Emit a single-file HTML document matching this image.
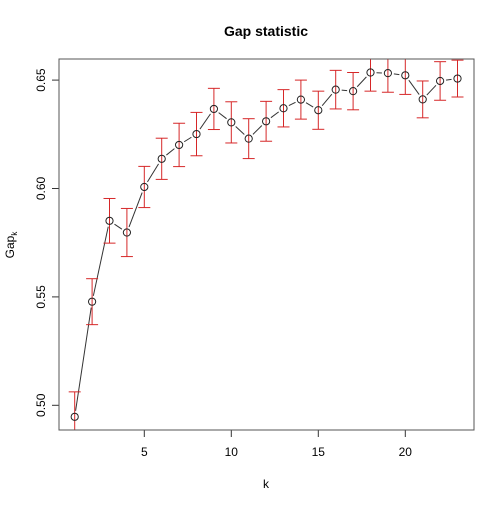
<!DOCTYPE html>
<html><head><meta charset="utf-8"><style>
body{margin:0;background:#fff}
svg text{font-family:"Liberation Sans",sans-serif}
</style></head><body>
<svg id="c" width="504" height="504" xmlns="http://www.w3.org/2000/svg">
<rect width="504" height="504" fill="#fff"/>
<text x="266" y="36" text-anchor="middle" font-size="14" font-weight="bold">Gap statistic</text>
<text x="266" y="488" text-anchor="middle" font-size="12">k</text>
<text transform="translate(14,245) rotate(-90)" text-anchor="middle" font-size="12">Gap<tspan font-size="8" dy="3">k</tspan></text>
<defs><clipPath id="cp"><rect x="59" y="59" width="415" height="371"/></clipPath></defs>
<g id="marks" clip-path="url(#cp)"></g>
<g id="axes"></g>
<rect x="59" y="59" width="415" height="371" fill="none" stroke="#555" stroke-width="1"/>
</svg>
<script>
const ks=[1,2,3,4,5,6,7,8,9,10,11,12,13,14,15,16,17,18,19,20,21,22,23];
const gap=[0.4947,0.5478,0.5851,0.5797,0.6007,0.6137,0.6201,0.6251,0.6367,0.6305,0.6230,0.6310,0.6370,0.6410,0.6361,0.6456,0.6449,0.6535,0.6532,0.6522,0.6411,0.6496,0.6507];
const se=[0.0115,0.0106,0.0103,0.0111,0.0095,0.0095,0.0100,0.0100,0.0095,0.0095,0.0092,0.0092,0.0086,0.0090,0.0088,0.0089,0.0086,0.0086,0.0088,0.0088,0.0085,0.0089,0.0085];
const xTicks=[5,10,15,20];
const yTicks=[0.50,0.55,0.60,0.65];
const yTickLabels=["0.50","0.55","0.60","0.65"];
const NS="http://www.w3.org/2000/svg";
const x=k=>74.7+(k-1)*17.4;
const y=v=>405.3-(v-0.5)*2168;
function mk(tag,attrs,parent){const e=document.createElementNS(NS,tag);for(const a in attrs)e.setAttribute(a,attrs[a]);parent.appendChild(e);return e;}
const m=document.getElementById('marks'),ax=document.getElementById('axes');
for(let i=0;i<ks.length-1;i++){
 const x1=x(ks[i]),y1=y(gap[i]),x2=x(ks[i+1]),y2=y(gap[i+1]);
 const d=Math.hypot(x2-x1,y2-y1),g=6;
 if(d>2*g){const ux=(x2-x1)/d,uy=(y2-y1)/d;
 const l=mk('line',{x1:x1+ux*g,y1:y1+uy*g,x2:x2-ux*g,y2:y2-uy*g,stroke:'#333','stroke-width':1},m);
 
 }
}
for(let i=0;i<ks.length;i++){
 const cx=x(ks[i]),t=y(gap[i]+se[i]),b=y(gap[i]-se[i]);
 const g=mk('g',{},m);
 
 
 mk('line',{x1:cx,y1:t,x2:cx,y2:b,stroke:'#d62728','stroke-width':1},g);
 mk('line',{x1:cx-6,y1:t,x2:cx+6,y2:t,stroke:'#d62728','stroke-width':1},g);
 mk('line',{x1:cx-6,y1:b,x2:cx+6,y2:b,stroke:'#d62728','stroke-width':1},g);
 const c=mk('circle',{cx:cx,cy:y(gap[i]),r:3.6,fill:'none',stroke:'#222','stroke-width':1},m);
 
 
}
mk('line',{x1:x(xTicks[0]),y1:430,x2:x(xTicks[xTicks.length-1]),y2:430,stroke:'#333'},ax);
xTicks.forEach(k=>{
 mk('line',{x1:x(k),y1:430,x2:x(k),y2:437,stroke:'#333'},ax);
 const t=mk('text',{x:x(k),y:456,'text-anchor':'middle','font-size':12},ax);
 t.textContent=k;
 
 
});
mk('line',{x1:59,y1:y(yTicks[0]),x2:59,y2:y(yTicks[yTicks.length-1]),stroke:'#333'},ax);
yTicks.forEach((v,i)=>{
 mk('line',{x1:52,y1:y(v),x2:59,y2:y(v),stroke:'#333'},ax);
 const t=mk('text',{transform:`translate(45,${y(v)}) rotate(-90)`,'text-anchor':'middle','font-size':12},ax);
 t.textContent=yTickLabels[i];
 
 
});
</script>
</body></html>
